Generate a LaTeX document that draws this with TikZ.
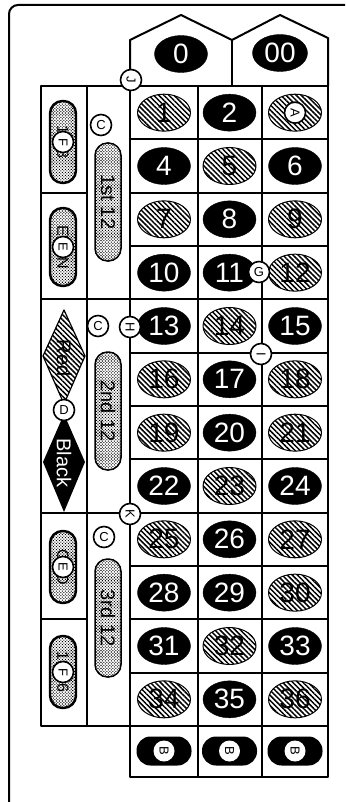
\documentclass[tikz,border=0pt]{standalone}
\usepackage{fontspec}
\setmainfont{Liberation Sans}
\usetikzlibrary{shapes.geometric, patterns.meta}

\newcommand\numsize{\fontsize{28}{28}\selectfont}
\newcommand\tagsize{\fontsize{13}{13}\selectfont}

\begin{document}
\begin{tikzpicture}[x=1pt, y=-1pt, line join=round,
  grid/.style={line width=2pt},
  hatch/.style={ellipse, draw, line width=1pt, minimum width=53pt, minimum height=37pt, inner sep=0pt,
    pattern={Lines[angle=-45, distance=3.6pt, line width=1.5pt]}, font=\numsize},
  blk/.style={ellipse, draw, fill=black, text=white, minimum width=53pt, minimum height=37pt, inner sep=0pt, font=\numsize},
  tag/.style={circle, draw, fill=white, line width=1.6pt, minimum size=21pt, inner sep=0pt, font=\tagsize},
  side/.style={tag, rotate=-90},
  pill/.style={draw, line width=2.4pt, rounded corners=12.5pt, minimum width=78pt, minimum height=26pt, inner sep=0pt,
    rotate=-90, pattern={Dots[distance=2.1pt, radius=0.75pt, angle=45]}, font=\fontsize{16}{16}\selectfont},
  cpill/.style={pill, line width=1.5pt, minimum width=118pt, minimum height=26pt, font=\fontsize{20}{20}\selectfont},
  bpill/.style={fill=black, rounded corners=14pt, minimum width=55pt, minimum height=29pt, inner sep=0pt}]
  \useasboundingbox (0,0) rectangle (345,802);

  % frame
  \draw[line width=2pt, rounded corners=9pt] (9,802) -- (9,5) -- (345,5);

  % zeros
  \draw[grid] (130,86) -- (130,40) -- (181,15) -- (232,40) -- (280,15) -- (328,38) -- (328,86);
  \draw[grid] (232,40) -- (232,86);
  \node[blk] (z0) at (181,54) {0};
  \node[blk, minimum width=55pt] (z00) at (280,53) {00};

  % layout lines
  \draw[grid] (41,86) rectangle (328,726);
  \draw[grid] (130,726) rectangle (328,777);
  \foreach \k in {1,...,11}
    \draw[grid] (130,{86+53.333*\k}) -- (328,{86+53.333*\k});
  \foreach \x in {87,130,198,262}
    \draw[grid] (\x,86) -- (\x,726);
  \draw[grid] (198,726) -- (198,777);
  \draw[grid] (262,726) -- (262,777);
  \foreach \k in {4,8}
    \draw[grid] (41,{86+53.333*\k}) -- (130,{86+53.333*\k});
  \foreach \k in {2,10}
    \draw[grid] (41,{86+53.333*\k}) -- (87,{86+53.333*\k});

  % numbers
  \foreach \n/\s in {1/hatch,2/blk,3/hatch,4/blk,5/hatch,6/blk,7/hatch,8/blk,9/hatch,
      10/blk,11/blk,12/hatch,13/blk,14/hatch,15/blk,16/hatch,17/blk,18/hatch,
      19/hatch,20/blk,21/hatch,22/blk,23/hatch,24/blk,25/hatch,26/blk,27/hatch,
      28/blk,29/blk,30/hatch,31/blk,32/hatch,33/blk,34/hatch,35/blk,36/hatch} {
    \pgfmathtruncatemacro\row{(\n-1)/3}
    \pgfmathtruncatemacro\col{\n-1-3*\row}
    \node[\s] (n\n) at ({164+65.5*\col},{86+53.333*(\row+0.5)}) {\n};
  }

  % outside bets
  \node[pill, minimum width=82pt] (low) at (63,142) {1-18};
  \node[pill] (even) at (63,247) {EVEN};
  \node[pill, minimum width=72pt] (odd) at (63,567) {ODD};
  \node[pill, minimum width=72pt] (high) at (63,672) {19-36};
  \node[cpill] (d1) at (108,202) {1st 12};
  \node[cpill] (d2) at (108,411) {2nd 12};
  \node[cpill] (d3) at (108,618) {3rd 12};

  \draw[line width=1.2pt, pattern={Lines[angle=-45, distance=3.6pt, line width=1.5pt]}]
    (64,310) -- (85,356) -- (64,404) -- (43,356) -- cycle;
  \node[rotate=-90, font=\fontsize{20}{20}\selectfont] (red) at (64,358) {Red};
  \fill (64,414) -- (85,462) -- (64,512) -- (43,462) -- cycle;
  \node[rotate=-90, text=white, font=\fontsize{20}{20}\selectfont] (black) at (64,463) {Black};

  \foreach \i/\x in {1/164,2/229.5,3/295} {
    \node[bpill] (b\i) at (\x,751) {};
    \node[side, draw=none] (tB\i) at (b\i) {B};
  }

  % bet letters
  \node[side] (tJ) at (131,80) {J};
  \node[side] (tA) at (n3) {A};
  \node[side] (tF1) at (low) {F};
  \node[side] (tE1) at (even) {E};
  \node[side] (tE2) at (odd) {E};
  \node[side] (tF2) at (high) {F};
  \node[tag] (tC1) at (101,125) {C};
  \node[tag] (tC2) at (98,326) {C};
  \node[tag] (tC3) at (104,537) {C};
  \node[tag] (tG) at (259,272) {G};
  \node[side] (tH) at (130,327) {H};
  \node[side] (tI) at (261,354) {I};
  \node[tag] (tD) at (64,410) {D};
  \node[side] (tK) at (130,514) {K};
\end{tikzpicture}
\end{document}
